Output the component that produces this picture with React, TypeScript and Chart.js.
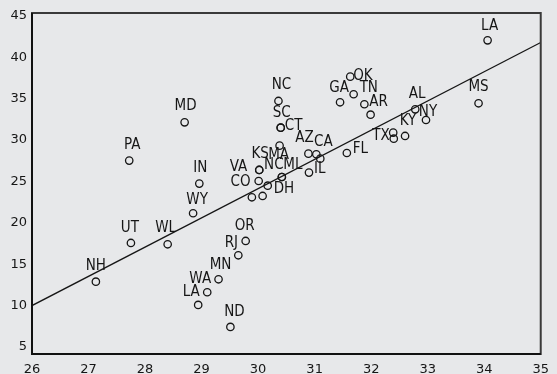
import { useEffect, useRef } from "react";
import { Chart, registerables } from "chart.js";

Chart.register(...registerables);

const stateLabels = [
  "NH", "UT", "WL", "PA", "MD", "WY", "IN", "LA", "WA", "MN",
  "ND", "RJ", "OR", "", "", "DH", "CO", "VA", "KS", "NC",
  "ML", "MA", "CT", "SC", "NC", "AZ", "", "CA", "IL", "FL",
  "GA", "OK", "TN", "AR", "", "AL", "NY", "KY", "", "TX",
  "MS", "LA",
];
const xValues = [
  27.13, 27.75, 28.4, 27.72, 28.7, 28.85, 28.96, 28.94, 29.1, 29.3,
  29.51, 29.65, 29.78, 29.89, 30.08, 30.17, 30.01, 30.02, 30.02, 30.42,
  30.42, 30.38, 30.4, 30.4, 30.36, 30.89, 31.03, 31.1, 30.9, 31.57,
  31.45, 31.63, 31.69, 31.88, 31.99, 32.78, 32.97, 32.6, 32.39, 32.4,
  33.9, 34.06,
];
const yValues = [
  12.89, 17.57, 17.41, 27.52, 32.15, 21.16, 24.74, 10.08, 11.61, 13.18,
  7.42, 16.08, 17.81, 23.09, 23.25, 24.49, 25.06, 26.39, 26.39, 25.54,
  25.54, 29.33, 31.5, 31.5, 34.73, 28.36, 28.29, 27.76, 26.07, 28.44,
  34.57, 37.67, 35.54, 34.33, 33.07, 33.72, 32.43, 30.5, 30.9, 30.17,
  34.45, 42.06,
];
const fitX = [26, 35];
const fitY = [10, 41.8];
const xTicks = [26, 27, 28, 29, 30, 31, 32, 33, 34, 35];
const yTicks = [5, 10, 15, 20, 25, 30, 35, 40, 45];

// label placement (style): [dx, dy, align]
const labelPlacement: [number, number, CanvasTextAlign][] = [
  [0, -16, "center"], [-1, -15, "center"], [-2, -16, "center"], [3, -16, "center"], [1, -16, "center"],
  [4, -13, "center"], [1, -16, "center"], [-7, -13, "center"], [-7, -13, "center"], [2, -14, "center"],
  [4, -15, "center"], [-7, -12, "center"], [-1, -15, "center"], [0, 0, "center"], [0, 0, "center"],
  [6, 3, "left"], [-8, 1, "right"], [-12, -3, "right"], [1, -16, "center"], [-8, -12, "center"],
  [11, -12, "center"], [-1, 9, "center"], [4, -2, "left"], [1, -15, "center"], [3, -16, "center"],
  [-4, -16, "center"], [0, 0, "center"], [3, -17, "center"], [5, -4, "left"], [6, -4, "left"],
  [-1, -14, "center"], [3, -1, "left"], [6, -6, "left"], [5, -2, "left"], [0, 0, "center"],
  [2, -15, "center"], [2, -8, "center"], [3, -15, "center"], [0, 0, "center"], [-4, -3, "right"],
  [0, -16, "center"], [2, -14, "center"],
];

const BG = "#e7e8ea";
const INK = "#161616";
const LABEL_FONT = '15px "DejaVu Sans Condensed", "DejaVu Sans", sans-serif';

const labelPlugin = {
  id: "pointLabels",
  afterDatasetsDraw(chart: any) {
    const meta = chart.getDatasetMeta(0);
    const ctx = chart.ctx;
    ctx.save();
    ctx.font = LABEL_FONT;
    ctx.fillStyle = INK;
    ctx.textBaseline = "middle";
    meta.data.forEach((el: any, i: number) => {
      const label = stateLabels[i];
      if (!label) return;
      const [dx, dy, align] = labelPlacement[i];
      ctx.textAlign = align;
      ctx.fillText(label, el.x + dx, el.y + dy);
    });
    ctx.restore();
  },
};

const framePlugin = {
  id: "frame",
  afterDraw(chart: any) {
    const { left, right, top, bottom } = chart.chartArea;
    const ctx = chart.ctx;
    ctx.save();
    ctx.strokeStyle = "#3a3a3a";
    ctx.lineWidth = 2;
    ctx.strokeRect(left, top, right - left, bottom - top);
    ctx.strokeStyle = "#111";
    ctx.beginPath();
    ctx.moveTo(left, top);
    ctx.lineTo(left, bottom);
    ctx.lineTo(right, bottom);
    ctx.stroke();
    ctx.restore();
  },
};

export default function App() {
  const ref = useRef<HTMLCanvasElement>(null);

  useEffect(() => {
    document.body.style.margin = "0";
    document.body.style.background = BG;
    const canvas = ref.current;
    if (!canvas) return;
    const tickFont = { family: '"DejaVu Sans", sans-serif', size: 13 };
    const chart = new Chart(canvas, {
      type: "scatter",
      data: {
        datasets: [
          {
            type: "scatter",
            data: xValues.map((x, i) => ({ x, y: yValues[i] })),
            pointStyle: "circle",
            pointRadius: 3.7,
            pointBorderWidth: 1.3,
            borderColor: INK,
            backgroundColor: "rgba(0,0,0,0)",
          } as any,
          {
            type: "line",
            data: fitX.map((x, i) => ({ x, y: fitY[i] })),
            borderColor: INK,
            borderWidth: 1.3,
            pointRadius: 0,
            showLine: true,
            fill: false,
          } as any,
        ],
      },
      options: {
        animation: false,
        responsive: false,
        devicePixelRatio: 1,
        layout: { padding: { top: 13, right: 11, left: 0, bottom: 0 } },
        plugins: { legend: { display: false }, tooltip: { enabled: false } },
        scales: {
          x: {
            type: "linear",
            min: 26,
            max: 35,
            afterBuildTicks: (s: any) => {
              s.ticks = xTicks.map((v) => ({ value: v }));
            },
            afterFit: (s: any) => {
              s.height = 20;
            },
            grid: { display: false, drawTicks: false },
            border: { display: false },
            ticks: { padding: 8, font: tickFont, color: INK, autoSkip: false, maxRotation: 0 },
          },
          y: {
            type: "linear",
            min: 4.15,
            max: 45.36,
            afterBuildTicks: (s: any) => {
              s.ticks = yTicks.map((v) => ({ value: v }));
            },
            afterFit: (s: any) => {
              s.width = 32;
            },
            grid: { display: false, drawTicks: false },
            border: { display: false },
            ticks: { padding: 5, font: tickFont, color: INK, autoSkip: false },
          },
        },
      },
      plugins: [labelPlugin, framePlugin],
    });
    return () => chart.destroy();
  }, []);

  return (
    <div style={{ width: 557, height: 374, background: BG }}>
      <canvas ref={ref} width={557} height={374} style={{ display: "block" }} />
    </div>
  );
}
